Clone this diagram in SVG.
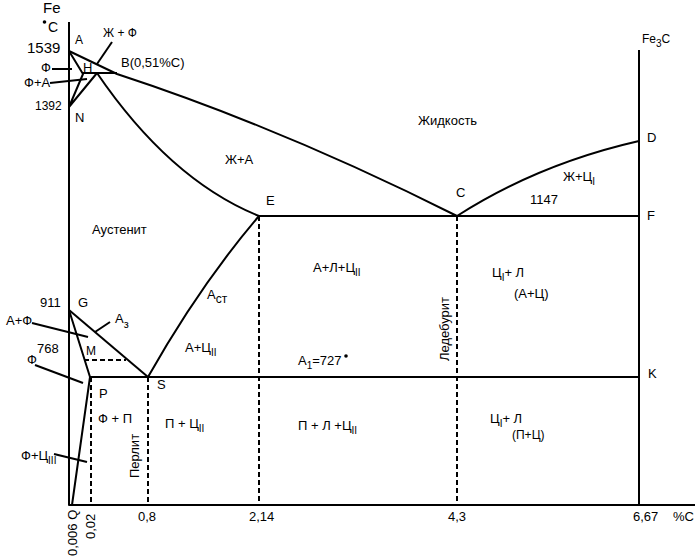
<svg xmlns="http://www.w3.org/2000/svg" width="697" height="558" viewBox="0 0 697 558">
<style>
.ln{fill:none;stroke:#000;stroke-width:2;stroke-linejoin:round;stroke-linecap:butt}
.ds{fill:none;stroke:#000;stroke-width:2;stroke-dasharray:5,3}
.ld{fill:none;stroke:#000;stroke-width:2}
text{font-family:"Liberation Sans",Arial,sans-serif;font-size:13px;fill:#000}
.sub{font-size:10px}
</style>
<rect width="697" height="558" fill="#fff"/>
<g id="axes">
<path class="ln" d="M69,22 V505 H695"/>
<path class="ln" d="M639,50 V505"/>
</g>
<g id="lines">
<path class="ln" d="M69,51 L117,74 Q282,128 457,216 Q538,164 639,141"/>
<path class="ln" d="M69,51 L83,74 L69,107 L97,73"/>
<path class="ln" d="M83,73 H117"/>
<path class="ln" d="M97,73 Q170,180 259,216 H639"/>
<path class="ln" d="M259,216 Q200,285 148,377"/>
<path class="ln" d="M69,310 L148,377"/>
<path class="ln" d="M69,310 L90,377 L72,505"/>
<path class="ln" d="M90,377 H639"/>
</g>
<g id="dashed">
<path class="ds" d="M84,360 H126"/>
<path class="ds" d="M91,377 V505"/>
<path class="ds" d="M148,377 V505"/>
<path class="ds" d="M259,216 V505"/>
<path class="ds" d="M457,216 V505"/>
</g>
<g id="leaders">
<path class="ld" d="M112,42 L97,64"/>
<path class="ld" d="M52,69 L72,69"/>
<path class="ld" d="M50,83 L87,79"/>
<path class="ld" d="M32,323 L88,337"/>
<path class="ld" d="M110,322 L95,332"/>
<path class="ld" d="M35,365 L83,383"/>
<path class="ld" d="M54,454 L87,462"/>
</g>
<g id="labels">
<text x="43" y="13" style="font-size:15px">Fe</text>
<circle cx="44.5" cy="22" r="1.8"/>
<text x="48" y="32" style="font-size:14px">C</text>
<text x="27" y="53" style="font-size:15px">1539</text>
<text x="75" y="44" style="font-size:12px">A</text>
<text x="103" y="37" style="font-size:12px">Ж + Ф</text>
<text x="83" y="72">H</text>
<text x="121" y="67">B(0,51%C)</text>
<text x="41" y="72">Ф</text>
<text x="24" y="87">Ф+А</text>
<text x="35" y="110" style="font-size:12px">1392</text>
<text x="75" y="122">N</text>
<text x="642" y="43" style="font-size:12px">Fe<tspan dy="4" style="font-size:10px">3</tspan><tspan dy="-4">C</tspan></text>
<text x="418" y="125">Жидкость</text>
<text x="647" y="142">D</text>
<text x="225" y="164">Ж+А</text>
<text x="563" y="181">Ж+Ц<tspan class="sub" dy="4">I</tspan></text>
<text x="456" y="197">C</text>
<text x="530" y="204">1147</text>
<text x="266" y="205">E</text>
<text x="647" y="220">F</text>
<text x="92" y="234">Аустенит</text>
<text x="313" y="272">А+Л+Ц<tspan class="sub" dy="4">II</tspan></text>
<text x="492" y="277">Ц<tspan class="sub" dy="4">I</tspan><tspan dy="-4">+ Л</tspan></text>
<text x="514" y="298">(А+Ц)</text>
<text transform="translate(449,329) rotate(-90)" text-anchor="middle">Ледебурит</text>
<text x="207" y="299">А<tspan dy="4" style="font-size:12px">ст</tspan></text>
<text x="40" y="307">911</text>
<text x="78" y="307">G</text>
<text x="6" y="325">А+Ф</text>
<text x="115" y="323">А<tspan dy="5" style="font-size:11px">з</tspan></text>
<text x="185" y="352">А+Ц<tspan class="sub" dy="4">II</tspan></text>
<text x="37" y="353">768</text>
<text x="86" y="355" style="font-size:12px">M</text>
<text x="298" y="365">А<tspan class="sub" dy="4">1</tspan><tspan dy="-4">=727</tspan></text>
<circle cx="346" cy="356" r="1.8"/>
<text x="27" y="364">Ф</text>
<text x="648" y="378">K</text>
<text x="157" y="389">S</text>
<text x="99" y="398">P</text>
<text x="98" y="423">Ф + П</text>
<text x="490" y="423">Ц<tspan class="sub" dy="4">I</tspan><tspan dy="-4">+ Л</tspan></text>
<text x="165" y="428">П + Ц<tspan class="sub" dy="4">II</tspan></text>
<text x="298" y="430">П + Л +Ц<tspan class="sub" dy="4">II</tspan></text>
<text x="512" y="439" style="font-size:12px">(П+Ц)</text>
<text transform="translate(139,456) rotate(-90)" text-anchor="middle">Перлит</text>
<text x="21" y="460">Ф+Ц<tspan class="sub" dy="4">III</tspan></text>
<text transform="translate(77,556) rotate(-90)">0,006 Q</text>
<text transform="translate(95,539) rotate(-90)">0,02</text>
<text x="138" y="521">0,8</text>
<text x="249" y="521">2,14</text>
<text x="448" y="521">4,3</text>
<text x="633" y="521">6,67</text>
<text x="673" y="521">%C</text>
</g>
</svg>
